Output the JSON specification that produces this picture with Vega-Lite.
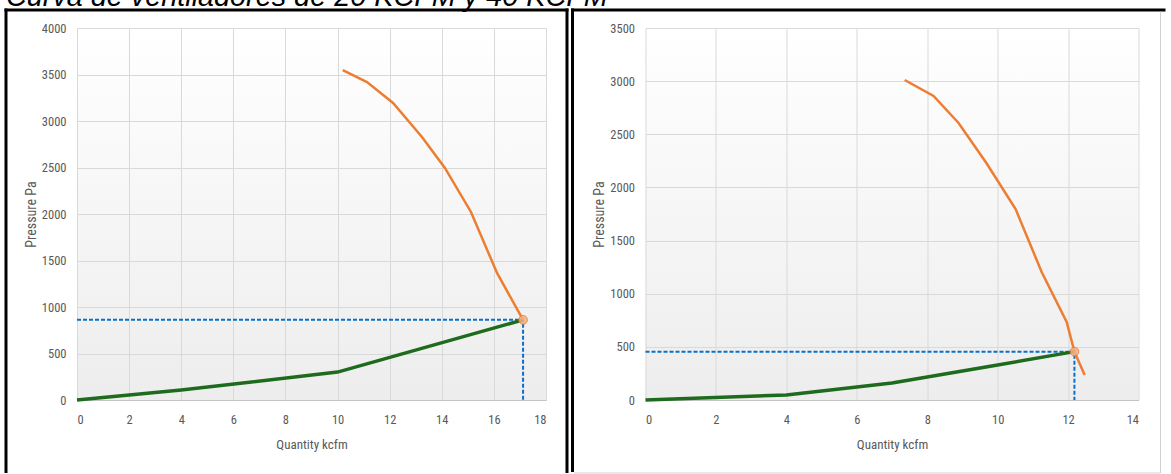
{
  "$schema": "https://vega.github.io/schema/vega-lite/v6.json",
  "padding": {"left": 2, "top": -17, "right": 0, "bottom": 0},
  "title": {"text": "Curva de ventiladores de 20 KCFM y 40 KCFM", "anchor": "start", "font": "Liberation Sans", "fontStyle": "italic", "fontWeight": "normal", "fontSize": 28.8, "color": "#000000", "offset": -5, "dx": 3},
  "datasets": {
    "curves": [
      {"c": "L", "s": "sys", "q": 0, "p": 0, "o": 1},
      {"c": "L", "s": "sys", "q": 4, "p": 107, "o": 2},
      {"c": "L", "s": "sys", "q": 10, "p": 300, "o": 3},
      {"c": "L", "s": "sys", "q": 17.12, "p": 862, "o": 4},
      {"c": "L", "s": "fan", "q": 10.2, "p": 3548, "o": 1},
      {"c": "L", "s": "fan", "q": 11.13, "p": 3419, "o": 2},
      {"c": "L", "s": "fan", "q": 12.13, "p": 3194, "o": 3},
      {"c": "L", "s": "fan", "q": 13.24, "p": 2828, "o": 4},
      {"c": "L", "s": "fan", "q": 14.12, "p": 2495, "o": 5},
      {"c": "L", "s": "fan", "q": 15.12, "p": 2022, "o": 6},
      {"c": "L", "s": "fan", "q": 16.12, "p": 1366, "o": 7},
      {"c": "L", "s": "fan", "q": 17.12, "p": 862, "o": 8},
      {"c": "L", "s": "op", "q": 0, "p": 862, "o": 1},
      {"c": "L", "s": "op", "q": 17.12, "p": 862, "o": 2},
      {"c": "L", "s": "op", "q": 17.12, "p": 0, "o": 3},
      {"c": "R", "s": "sys", "q": 0, "p": 0, "o": 1},
      {"c": "R", "s": "sys", "q": 4, "p": 48, "o": 2},
      {"c": "R", "s": "sys", "q": 7, "p": 160, "o": 3},
      {"c": "R", "s": "sys", "q": 10, "p": 330, "o": 4},
      {"c": "R", "s": "sys", "q": 12.18, "p": 455, "o": 5},
      {"c": "R", "s": "fan", "q": 7.36, "p": 3011, "o": 1},
      {"c": "R", "s": "fan", "q": 8.18, "p": 2860, "o": 2},
      {"c": "R", "s": "fan", "q": 8.89, "p": 2606, "o": 3},
      {"c": "R", "s": "fan", "q": 9.68, "p": 2230, "o": 4},
      {"c": "R", "s": "fan", "q": 10.51, "p": 1797, "o": 5},
      {"c": "R", "s": "fan", "q": 11.25, "p": 1204, "o": 6},
      {"c": "R", "s": "fan", "q": 11.96, "p": 734, "o": 7},
      {"c": "R", "s": "fan", "q": 12.18, "p": 455, "o": 8},
      {"c": "R", "s": "fan", "q": 12.47, "p": 235, "o": 9},
      {"c": "R", "s": "op", "q": 0, "p": 455, "o": 1},
      {"c": "R", "s": "op", "q": 12.18, "p": 455, "o": 2},
      {"c": "R", "s": "op", "q": 12.18, "p": 0, "o": 3}
    ],
    "points": [
      {"c": "L", "q": 17.12, "p": 862},
      {"c": "R", "q": 12.18, "p": 455}
    ],
    "frames": [
      {"c": "L", "k": "black", "x1": -2.725, "x2": -2.725, "y1": 4209.7, "y2": -785},
      {"c": "L", "k": "black", "x1": -2.783, "x2": 18.864, "y1": 4193.5, "y2": 4193.5},
      {"c": "L", "k": "black", "x1": 18.806, "x2": 18.806, "y1": 4209.7, "y2": -785},
      {"c": "R", "k": "black", "x1": -2.073, "x2": -2.073, "y1": 3683.5, "y2": -677.4},
      {"c": "R", "k": "black", "x1": -2.1156, "x2": 14.767, "y1": 3669.3, "y2": 3669.3},
      {"c": "R", "k": "gray", "x1": 14.625, "x2": 14.625, "y1": 3654.9, "y2": -686.8},
      {"c": "R", "k": "gray", "x1": -2.03, "x2": 14.625, "y1": -686.8, "y2": -686.8}
    ]
  },
  "spacing": -1.5,
  "hconcat": [
    {
      "width": 469,
      "height": 372,
      "layer": [
        {
          "data": {"name": "frames"},
          "transform": [{"filter": "datum.c == 'L'"}],
          "mark": {"type": "rule", "strokeCap": "butt"},
          "encoding": {
            "x": {"field": "x1", "type": "quantitative", "scale": {"domain": [0, 18], "nice": false}, "title": "Quantity kcfm", "axis": {"values": [0, 2, 4, 6, 8, 10, 12, 14, 16, 18], "format": "d"}},
            "x2": {"field": "x2"},
            "y": {"field": "y1", "type": "quantitative", "scale": {"domain": [0, 4000], "nice": false}, "title": "Pressure Pa", "axis": {"values": [0, 500, 1000, 1500, 2000, 2500, 3000, 3500, 4000], "format": "d"}},
            "y2": {"field": "y2"},
            "color": {"field": "k", "type": "nominal", "scale": {"domain": ["black", "gray"], "range": ["#000000", "#d0d0d0"]}, "legend": null},
            "strokeWidth": {"field": "k", "type": "nominal", "scale": {"domain": ["black", "gray"], "range": [3, 1]}, "legend": null}
          }
        },
        {
          "data": {"name": "curves"},
          "transform": [{"filter": "datum.c == 'L' && datum.s == 'op'"}],
          "mark": {"type": "line", "color": "#0a6fc9", "strokeWidth": 2, "strokeDash": [4, 2]},
          "encoding": {
            "x": {"field": "q", "type": "quantitative", "title": "Quantity kcfm"},
            "y": {"field": "p", "type": "quantitative", "title": "Pressure Pa"},
            "order": {"field": "o"}
          }
        },
        {
          "data": {"name": "curves"},
          "transform": [{"filter": "datum.c == 'L' && datum.s == 'sys'"}],
          "mark": {"type": "line", "color": "#1e6b1e", "strokeWidth": 3.5},
          "encoding": {
            "x": {"field": "q", "type": "quantitative", "title": "Quantity kcfm"},
            "y": {"field": "p", "type": "quantitative", "title": "Pressure Pa"},
            "order": {"field": "o"}
          }
        },
        {
          "data": {"name": "curves"},
          "transform": [{"filter": "datum.c == 'L' && datum.s == 'fan'"}],
          "mark": {"type": "line", "color": "#ed7d31", "strokeWidth": 2.5},
          "encoding": {
            "x": {"field": "q", "type": "quantitative", "title": "Quantity kcfm"},
            "y": {"field": "p", "type": "quantitative", "title": "Pressure Pa"},
            "order": {"field": "o"}
          }
        },
        {
          "data": {"name": "points"},
          "transform": [{"filter": "datum.c == 'L'"}],
          "mark": {"type": "point", "shape": "circle", "filled": true, "size": 75, "fill": "#f4b183", "stroke": "#ed7d31", "strokeWidth": 1, "opacity": 0.85},
          "encoding": {
            "x": {"field": "q", "type": "quantitative", "title": "Quantity kcfm"},
            "y": {"field": "p", "type": "quantitative", "title": "Pressure Pa"}
          }
        }
      ]
    },
    {
      "width": 493,
      "height": 372,
      "layer": [
        {
          "data": {"name": "frames"},
          "transform": [{"filter": "datum.c == 'R'"}],
          "mark": {"type": "rule", "strokeCap": "butt"},
          "encoding": {
            "x": {"field": "x1", "type": "quantitative", "scale": {"domain": [0, 14], "nice": false}, "title": "Quantity kcfm", "axis": {"values": [0, 2, 4, 6, 8, 10, 12, 14], "format": "d"}},
            "x2": {"field": "x2"},
            "y": {"field": "y1", "type": "quantitative", "scale": {"domain": [0, 3500], "nice": false}, "title": "Pressure Pa", "axis": {"values": [0, 500, 1000, 1500, 2000, 2500, 3000, 3500], "format": "d"}},
            "y2": {"field": "y2"},
            "color": {"field": "k", "type": "nominal", "scale": {"domain": ["black", "gray"], "range": ["#000000", "#d0d0d0"]}, "legend": null},
            "strokeWidth": {"field": "k", "type": "nominal", "scale": {"domain": ["black", "gray"], "range": [3, 1]}, "legend": null}
          }
        },
        {
          "data": {"name": "curves"},
          "transform": [{"filter": "datum.c == 'R' && datum.s == 'op'"}],
          "mark": {"type": "line", "color": "#0a6fc9", "strokeWidth": 2, "strokeDash": [4, 2]},
          "encoding": {
            "x": {"field": "q", "type": "quantitative", "title": "Quantity kcfm"},
            "y": {"field": "p", "type": "quantitative", "title": "Pressure Pa"},
            "order": {"field": "o"}
          }
        },
        {
          "data": {"name": "curves"},
          "transform": [{"filter": "datum.c == 'R' && datum.s == 'sys'"}],
          "mark": {"type": "line", "color": "#1e6b1e", "strokeWidth": 3.5},
          "encoding": {
            "x": {"field": "q", "type": "quantitative", "title": "Quantity kcfm"},
            "y": {"field": "p", "type": "quantitative", "title": "Pressure Pa"},
            "order": {"field": "o"}
          }
        },
        {
          "data": {"name": "curves"},
          "transform": [{"filter": "datum.c == 'R' && datum.s == 'fan'"}],
          "mark": {"type": "line", "color": "#ed7d31", "strokeWidth": 2.5},
          "encoding": {
            "x": {"field": "q", "type": "quantitative", "title": "Quantity kcfm"},
            "y": {"field": "p", "type": "quantitative", "title": "Pressure Pa"},
            "order": {"field": "o"}
          }
        },
        {
          "data": {"name": "points"},
          "transform": [{"filter": "datum.c == 'R'"}],
          "mark": {"type": "point", "shape": "circle", "filled": true, "size": 75, "fill": "#f4b183", "stroke": "#ed7d31", "strokeWidth": 1, "opacity": 0.85},
          "encoding": {
            "x": {"field": "q", "type": "quantitative", "title": "Quantity kcfm"},
            "y": {"field": "p", "type": "quantitative", "title": "Pressure Pa"}
          }
        }
      ]
    }
  ],
  "config": {
    "background": "#ffffff",
    "view": {
      "stroke": null,
      "fill": {"gradient": "linear", "x1": 0, "y1": 0, "x2": 0, "y2": 1, "stops": [{"offset": 0, "color": "#ffffff"}, {"offset": 1, "color": "#ededed"}]}
    },
    "axis": {
      "labelFont": "Liberation Sans Narrow, Roboto Condensed, Liberation Sans, sans-serif",
      "titleFont": "Liberation Sans Narrow, Roboto Condensed, Liberation Sans, sans-serif",
      "labelFontSize": 12.5,
      "titleFontSize": 13,
      "labelColor": "#595959",
      "titleColor": "#595959",
      "titleFontWeight": "normal",
      "gridColor": "#d9d9d9",
      "gridWidth": 1,
      "ticks": false,
      "domain": false
    },
    "axisX": {"labelPadding": 13, "titlePadding": 13, "domain": true, "domainColor": "#c4c4c4"},
    "axisY": {"labelPadding": 11, "titlePadding": 3, "titleFontSize": 14}
  }
}
